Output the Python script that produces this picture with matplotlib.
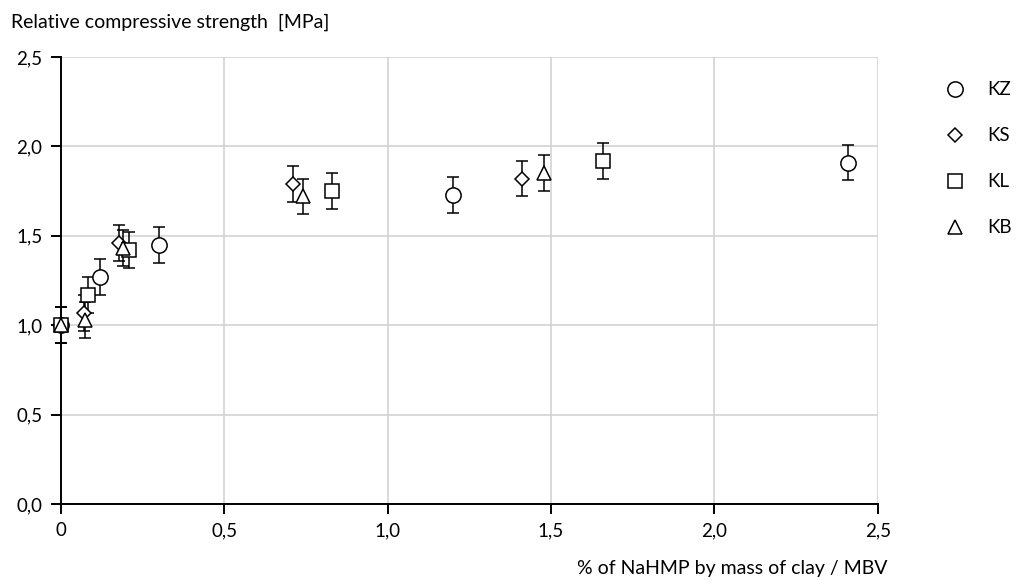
import matplotlib.pyplot as plt
from matplotlib.ticker import FuncFormatter, MultipleLocator

plt.rcParams['font.family'] = ['Lato', 'DejaVu Sans']

# Data
kz_x = [0.0, 0.12, 0.30, 1.20, 2.41]
kz_y = [1.00, 1.27, 1.45, 1.73, 1.91]
ks_x = [0.0, 0.07, 0.18, 0.71, 1.41]
ks_y = [1.00, 1.07, 1.46, 1.79, 1.82]
kl_x = [0.0, 0.085, 0.21, 0.83, 1.66]
kl_y = [1.00, 1.17, 1.42, 1.75, 1.92]
kb_x = [0.0, 0.075, 0.19, 0.74, 1.48]
kb_y = [1.00, 1.03, 1.43, 1.72, 1.85]
err = 0.1

series = [
    ('KZ', kz_x, kz_y, 'o', 11),
    ('KS', ks_x, ks_y, 'D', 7.5),
    ('KL', kl_x, kl_y, 's', 10),
    ('KB', kb_x, kb_y, '^', 10.5),
]

fig = plt.figure(figsize=(10.16, 5.8), dpi=100)
ax = fig.add_axes([0.0597, 0.131, 0.8043, 0.7707])

for name, xs, ys, m, ms in series:
    ax.errorbar(xs, ys, yerr=err, fmt=m, ms=ms, mfc='white', mec='black',
                mew=1.1, ecolor='black', elinewidth=1.1, capsize=4,
                capthick=1.1, label=name, clip_on=False, zorder=3)

ax.set_xlim(0, 2.5)
ax.set_ylim(0, 2.5)
ax.xaxis.set_major_locator(MultipleLocator(0.5))
ax.yaxis.set_major_locator(MultipleLocator(0.5))

fmt_x = FuncFormatter(lambda v, p: '0' if v == 0 else f'{v:.1f}'.replace('.', ','))
fmt_y = FuncFormatter(lambda v, p: f'{v:.1f}'.replace('.', ','))
ax.xaxis.set_major_formatter(fmt_x)
ax.yaxis.set_major_formatter(fmt_y)

ax.grid(True, color='#d0d0d0', lw=1.1, zorder=0)
ax.set_axisbelow(True)
for s in ['top', 'right']:
    ax.spines[s].set_visible(False)
for s in ['left', 'bottom']:
    ax.spines[s].set_linewidth(1.4)
    ax.spines[s].set_color('black')
ax.tick_params(length=7, width=1.4, labelsize=13.5, color='black', pad=6)

fig.text(0.011, 0.962, 'Relative compressive strength  [MPa]', fontsize=14,
         ha='left', va='center')
fig.text(0.874, 0.019, '% of NaHMP by mass of clay / MBV', fontsize=14,
         ha='right', va='center')

leg_handles = [plt.Line2D([], [], ls='none', marker=m, ms=ms, mfc='white',
                          mec='black', mew=1.1) for _, _, _, m, ms in series]
fig.legend(leg_handles, [s[0] for s in series], loc='upper left',
           bbox_to_anchor=(0.910, 0.889), frameon=False, fontsize=13.5,
           labelspacing=1.55, handletextpad=0.95, handlelength=1.5)

fig.savefig('out.png', dpi=100, facecolor='white')
